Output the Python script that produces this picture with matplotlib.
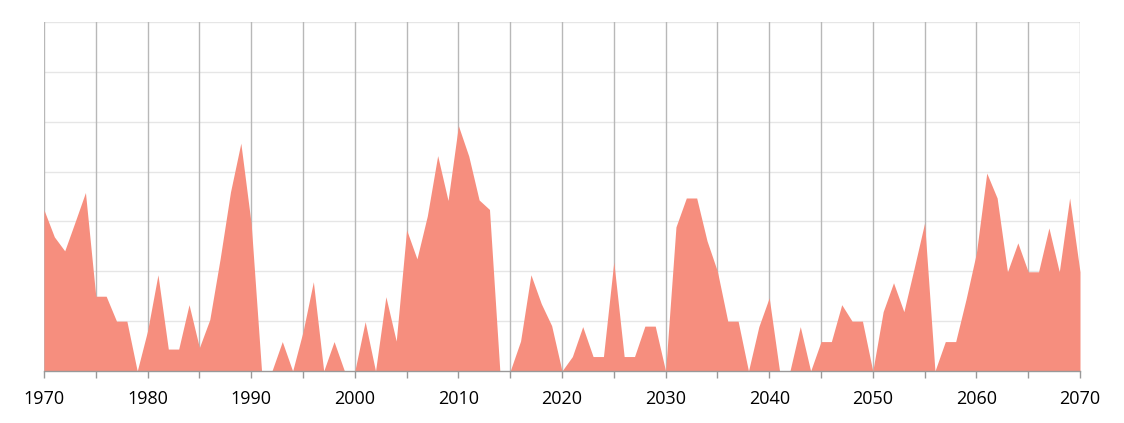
import matplotlib
matplotlib.use("Agg")
import matplotlib.pyplot as plt
import numpy as np

years = list(range(1970, 2071))
values = [
    32.3, 26.9, 24.1, 29.9, 35.8, 15.0, 15.0, 10.0, 10.0, 0.0,   # 1970-1979
    8.1, 19.3, 4.4, 4.4, 13.3, 4.7, 10.3, 22.5, 35.9, 45.7,      # 1980-1989
    29.5, 0.0, 0.0, 5.9, 0.0, 7.9, 17.9, 0.0, 5.9, 0.0,          # 1990-1999
    0.0, 9.9, 0.0, 14.9, 6.0, 28.3, 22.5, 31.1, 43.2, 34.2,      # 2000-2009
    49.2, 43.1, 34.3, 32.4, 0.0, 0.0, 6.0, 19.3, 13.5, 9.1,      # 2010-2019
    0.0, 2.9, 8.9, 2.9, 2.9, 21.9, 2.9, 2.9, 9.0, 9.0,           # 2020-2029
    0.0, 28.9, 34.7, 34.7, 26.1, 20.0, 10.0, 10.0, 0.0, 8.9,     # 2030-2039
    14.7, 0.0, 0.0, 8.9, 0.0, 5.9, 5.9, 13.3, 10.0, 10.0,        # 2040-2049
    0.0, 11.9, 17.7, 11.9, 20.7, 29.7, 0.0, 5.9, 5.9, 14.4,      # 2050-2059
    23.7, 39.7, 34.7, 19.9, 25.7, 19.9, 19.9, 28.7, 19.9, 34.7,  # 2060-2069
    19.9,                                                        # 2070
]
label_years = list(range(1970, 2071, 10))
tick_years = list(range(1970, 2071, 5))

W, H = 1124, 423
fig = plt.figure(figsize=(W / 100, H / 100), dpi=100)
ax = fig.add_axes([44 / W, (H - 371) / H, (1080 - 44) / W, (371 - 22) / H])

ax.fill_between(years, values, 0, color="#F68E7E", linewidth=0, zorder=3)

ax.set_xlim(1970, 2070)
ax.set_ylim(0, 70)

# horizontal grid
for yv in range(10, 71, 10):
    ax.axhline(yv, color="#e6e6e6", linewidth=1, zorder=1)
# vertical grid
for xv in tick_years:
    ax.axvline(xv, color="#b8b8b8", linewidth=1, zorder=2)

ax.set_xticks(tick_years)
ax.set_xticklabels([str(y) if y in label_years else "" for y in tick_years],
                   fontfamily="Open Sans", fontsize=13, color="#000000")
ax.tick_params(axis="x", length=5, width=1, color="#999999", pad=9)
ax.set_yticks([])

for s in ["top", "right", "left"]:
    ax.spines[s].set_visible(False)
ax.spines["bottom"].set_color("#999999")
ax.spines["bottom"].set_linewidth(1)
ax.spines["bottom"].set_zorder(4)

fig.savefig("out.png", dpi=100)
